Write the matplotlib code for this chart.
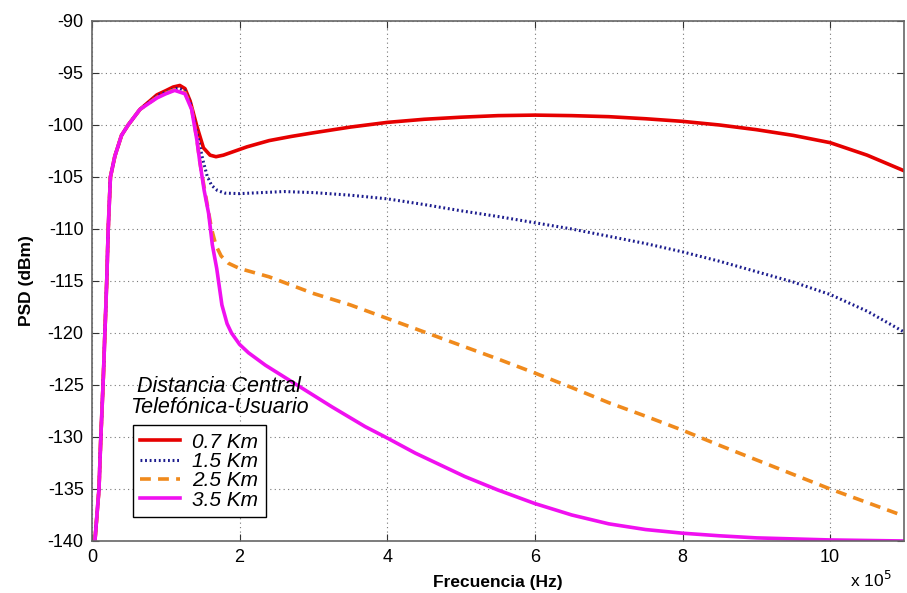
import matplotlib
matplotlib.use("Agg")
import matplotlib.pyplot as plt

plt.rcParams['font.family'] = ['Liberation Sans', 'DejaVu Sans']
plt.rcParams['axes.unicode_minus'] = False

# frequency in units of 1e5 Hz, PSD in dBm
rise_x = [0.04, 0.095, 0.12, 0.15, 0.175, 0.2, 0.22, 0.25, 0.31, 0.4, 0.49, 0.65]
rise_y = [-140, -135, -130, -125, -120, -115, -110, -105, -103, -101, -100, -98.5]

x_red = rise_x + [0.88, 1.0, 1.1, 1.19, 1.26, 1.33, 1.42, 1.51, 1.6, 1.68, 1.78, 1.9, 2.1, 2.4, 2.7,
                  3.0, 3.5, 4.0, 4.5, 5.0, 5.5, 6.0, 6.5, 7.0, 7.5, 8.0, 8.5, 9.0, 9.5, 10.0, 10.5, 11.0]
y_red = rise_y + [-97.1, -96.7, -96.35, -96.2, -96.5, -97.7, -100.1, -102.2, -102.9, -103.05, -102.9,
                  -102.6, -102.1, -101.5, -101.1, -100.75, -100.2, -99.75, -99.45, -99.25, -99.1,
                  -99.05, -99.1, -99.2, -99.4, -99.65, -100.0, -100.45, -101.0, -101.7, -102.9, -104.4]

x_blue = rise_x + [0.88, 1.0, 1.1, 1.17, 1.26, 1.33, 1.42, 1.5, 1.56, 1.62, 1.7, 1.8, 2.0, 2.3, 2.6,
                   3.0, 3.5, 4.0, 4.5, 5.0, 5.5, 6.0, 6.5, 7.0, 7.5, 8.0, 8.5, 9.0, 9.5, 10.0, 10.5, 11.0]
y_blue = rise_y + [-97.2, -96.85, -96.55, -96.45, -96.7, -97.8, -100.6, -103.3, -104.9, -105.8, -106.3,
                   -106.55, -106.6, -106.5, -106.4, -106.5, -106.75, -107.1, -107.65, -108.25, -108.8,
                   -109.4, -110.0, -110.7, -111.4, -112.2, -113.1, -114.1, -115.1, -116.3, -117.9, -119.9]

x_orange = rise_x + [0.88, 1.0, 1.12, 1.26, 1.35, 1.42, 1.46, 1.52, 1.57, 1.62, 1.68, 1.75, 1.85, 2.0,
                     2.4, 3.0, 3.5, 4.0, 4.5, 5.0, 5.5, 6.0, 6.5, 7.0, 7.5, 8.0, 8.5, 9.0, 9.5, 10.0,
                     10.5, 11.0]
y_orange = rise_y + [-97.35, -96.95, -96.6, -96.9, -98.4, -101.3, -103.5, -106.0, -108.0, -110.0,
                     -111.6, -112.6, -113.3, -113.8, -114.6, -116.2, -117.3, -118.6, -119.9, -121.2,
                     -122.5, -123.85, -125.25, -126.7, -128.0, -129.35, -130.8, -132.2, -133.6,
                     -135.0, -136.3, -137.6]

x_mag = rise_x + [0.88, 1.0, 1.12, 1.26, 1.35, 1.42, 1.46, 1.52, 1.58, 1.63, 1.69, 1.76, 1.83, 1.89,
                  2.0, 2.12, 2.35, 2.8, 3.25, 3.7, 4.0, 4.38, 5.05, 5.5, 6.0, 6.5, 7.0, 7.5, 8.0, 8.5,
                  9.0, 10.0, 11.0]
y_mag = rise_y + [-97.4, -97.0, -96.67, -97.0, -98.5, -101.4, -103.5, -106.3, -108.5, -111.5, -113.8,
                  -117.3, -119.1, -120.0, -121.1, -121.9, -123.1, -125.1, -127.1, -129.0, -130.1,
                  -131.55, -133.8, -135.1, -136.4, -137.5, -138.35, -138.9, -139.25, -139.5, -139.7,
                  -139.9, -140]

labels = ['0.7 Km', '1.5 Km', '2.5 Km', '3.5 Km']
xticks = [0, 2, 4, 6, 8, 10]
yticks = list(range(-140, -89, 5))

fig = plt.figure(figsize=(9.07, 5.93), dpi=100)
ax = fig.add_axes([0.1014, 0.0877, 0.8953, 0.8769])

ax.plot(x_red, y_red, color='#e60000', lw=2.6, label=labels[0])
ax.plot(x_blue, y_blue, color='#1c1c8e', lw=2.2, ls=(0, (0.6, 0.9)), label=labels[1])
ax.plot(x_orange, y_orange, color='#f08a1c', lw=2.6, ls=(0, (3, 2)), label=labels[2])
ax.plot(x_mag, y_mag, color='#f010f0', lw=2.6, label=labels[3])

ax.set_xlim(0, 11)
ax.set_ylim(-140, -90)
ax.set_xticks(xticks)
ax.set_xticklabels([str(t) for t in xticks])
ax.set_yticks(yticks)
ax.tick_params(direction='in', top=True, right=True, labelsize=13, length=5, pad=6,
               colors='#333333', labelcolor='black')
ax.grid(True, color='#777777', ls=(0, (1, 3)), lw=0.8)
for s in ax.spines.values():
    s.set_color('#666666')
    s.set_linewidth(1.2)

ax.set_xlabel('Frecuencia (Hz)', fontsize=12.5, fontweight='bold', labelpad=6)
ax.set_ylabel('PSD (dBm)', fontsize=12.5, fontweight='bold', labelpad=10)
fig.text(0.937, 0.022, r'x 10$^5$', fontsize=12.5, ha='left', va='center')

ax.text(1.72, -126.2, 'Distancia Central\nTelefónica-Usuario', fontsize=15.5, style='italic',
        ha='center', va='center', linespacing=1.0)

leg = ax.legend(loc='lower left', bbox_to_anchor=(0.0505, 0.046), borderaxespad=0,
                fancybox=False, edgecolor='black', framealpha=1, prop={'size': 15, 'style': 'italic'},
                handlelength=1.9, handletextpad=0.6, labelspacing=0.02, borderpad=0.35)
leg.get_frame().set_linewidth(1.0)

fig.savefig('out.png', dpi=100)
